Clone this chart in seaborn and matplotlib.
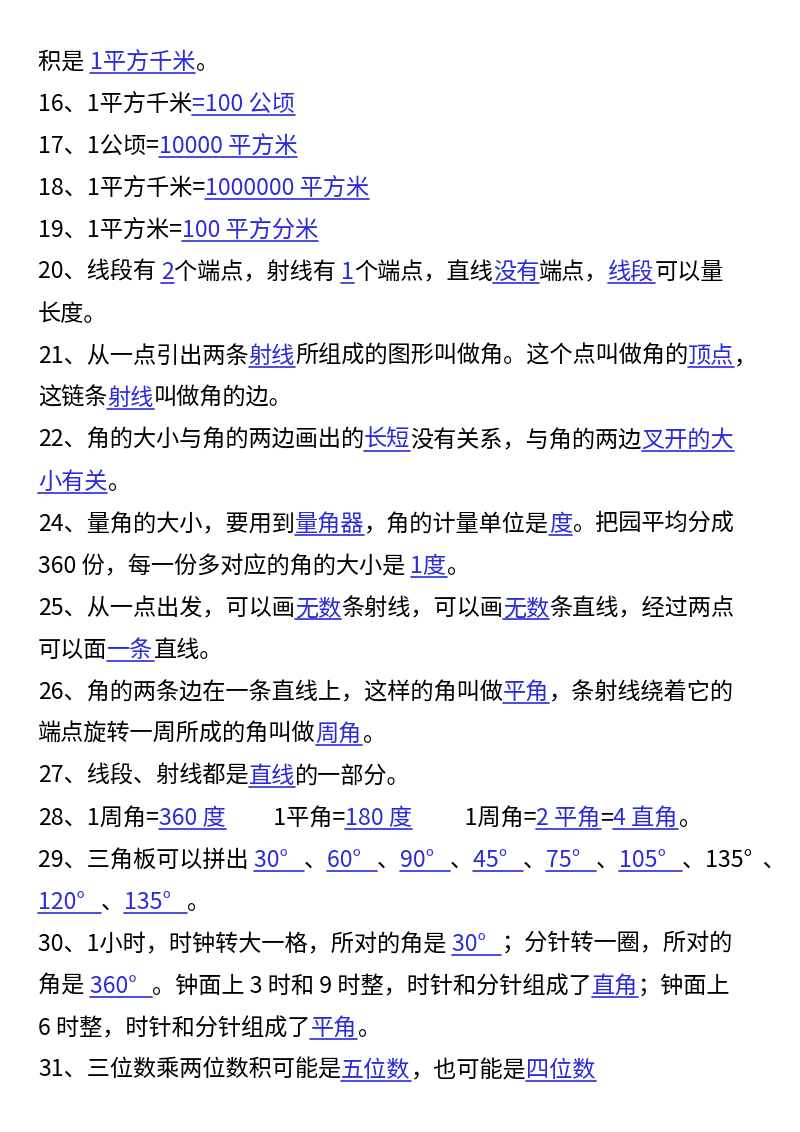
import matplotlib
matplotlib.use("Agg")
import matplotlib.pyplot as plt
import seaborn as sns

sns.set_theme(style="white")
plt.rcParams['font.family'] = ['Noto Sans CJK SC', 'DejaVu Sans']

# Each line: list of (text, is_answer)
lines = [
    [("积是 ", 0), ("1平方千米", 1), ("。", 0)],
    [("16、1平方千米", 0), ("=100 公顷", 1)],
    [("17、1公顷=", 0), ("10000 平方米", 1)],
    [("18、1平方千米=", 0), ("1000000 平方米", 1)],
    [("19、1平方米=", 0), ("100 平方分米", 1)],
    [("20、线段有 ", 0), ("2", 1), ("个端点，射线有 ", 0), ("1", 1), ("个端点，直线", 0), ("没有", 1), ("端点，", 0), ("线段", 1), ("可以量", 0)],
    [("长度。", 0)],
    [("21、从一点引出两条", 0), ("射线", 1), ("所组成的图形叫做角。这个点叫做角的", 0), ("顶点", 1), ("，", 0)],
    [("这链条", 0), ("射线", 1), ("叫做角的边。", 0)],
    [("22、角的大小与角的两边画出的", 0), ("长短", 1), ("没有关系，与角的两边", 0), ("叉开的大", 1)],
    [("小有关", 1), ("。", 0)],
    [("24、量角的大小，要用到", 0), ("量角器", 1), ("，角的计量单位是", 0), ("度", 1), ("。把园平均分成", 0)],
    [("360 份，每一份多对应的角的大小是 ", 0), ("1度", 1), ("。", 0)],
    [("25、从一点出发，可以画", 0), ("无数", 1), ("条射线，可以画", 0), ("无数", 1), ("条直线，经过两点", 0)],
    [("可以面", 0), ("一条", 1), ("直线。", 0)],
    [("26、角的两条边在一条直线上，这样的角叫做", 0), ("平角", 1), ("，条射线绕着它的", 0)],
    [("端点旋转一周所成的角叫做", 0), ("周角", 1), ("。", 0)],
    [("27、线段、射线都是", 0), ("直线", 1), ("的一部分。", 0)],
    [("28、1周角=", 0), ("360 度", 1), ("         1平角=", 0), ("180 度", 1), ("          1周角=", 0), ("2 平角", 1), ("=", 0), ("4 直角", 1), ("。", 0)],
    [("29、三角板可以拼出 ", 0), ("30°   ", 1), ("、", 0), ("60°   ", 1), ("、", 0), ("90°   ", 1), ("、", 0), ("45°   ", 1), ("、", 0), ("75°   ", 1), ("、", 0), ("105°   ", 1), ("、135°  、", 0)],
    [("120°   ", 1), ("、", 0), ("135°   ", 1), ("。", 0)],
    [("30、1小时，时钟转大一格，所对的角是 ", 0), ("30°   ", 1), ("；分针转一圈，所对的", 0)],
    [("角是 ", 0), ("360°   ", 1), ("。钟面上 3 时和 9 时整，时针和分针组成了", 0), ("直角", 1), ("；钟面上", 0)],
    [("6 时整，时针和分针组成了", 0), ("平角", 1), ("。", 0)],
    [("31、三位数乘两位数积可能是", 0), ("五位数", 1), ("，也可能是", 0), ("四位数", 1)],
]

BLUE = "#2b2bd9"
fig = plt.figure(figsize=(8, 11.32), dpi=100)
ax = fig.add_axes([0, 0, 1, 1])
ax.set_xlim(0, 800)
ax.set_ylim(1132, 0)
ax.axis("off")
renderer = fig.canvas.get_renderer()

for i, segs in enumerate(lines):
    yb = 69 + 42 * i
    x = 38
    for txt, ans in segs:
        t = ax.text(x, yb, txt, fontsize=16.7, va="baseline", ha="left",
                    color=BLUE if ans else "black")
        bb = t.get_window_extent(renderer=renderer)
        w = bb.width
        if ans:
            ax.plot([x, x + w], [yb + 4, yb + 4], color=BLUE, lw=1.2)
        x += w

fig.savefig("out.png", dpi=100, facecolor="white")
